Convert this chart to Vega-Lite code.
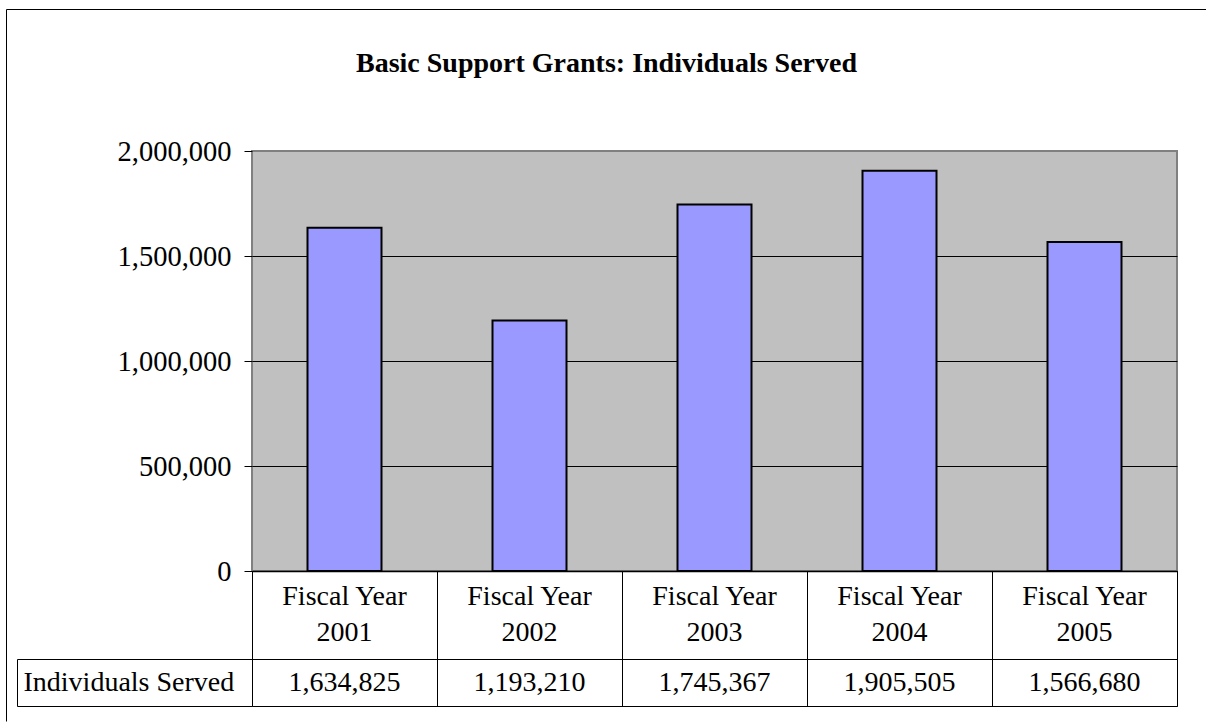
{
  "$schema": "https://vega.github.io/schema/vega-lite/v6.json",
  "padding": {"left": 5, "top": 8, "right": 0, "bottom": 0},
  "background": "white",
  "config": {"font": "Liberation Serif", "view": {"stroke": null}},
  "data": {"values": [
    {"year": "Fiscal Year\n2001", "served": 1634825},
    {"year": "Fiscal Year\n2002", "served": 1193210},
    {"year": "Fiscal Year\n2003", "served": 1745367},
    {"year": "Fiscal Year\n2004", "served": 1905505},
    {"year": "Fiscal Year\n2005", "served": 1566680}
  ]},
  "bounds": "flush",
  "spacing": 0,
  "vconcat": [
    {
      "width": 925,
      "height": 420,
      "title": {"text": "Basic Support Grants: Individuals Served", "fontSize": 28, "fontWeight": "bold", "font": "Liberation Serif", "color": "black", "anchor": "middle", "frame": "group", "dx": -108, "offset": 59},
      "view": {"fill": "#C0C0C0", "stroke": "#808080", "strokeWidth": 2},
      "mark": {"type": "bar", "color": "#9999FF", "stroke": "black", "strokeWidth": 2},
      "encoding": {
        "x": {"field": "year", "type": "nominal", "sort": null,
              "scale": {"paddingInner": 0.6, "paddingOuter": 0.3},
              "axis": {"labels": false, "ticks": false, "domain": true, "domainColor": "black", "domainWidth": 1.5, "title": null, "grid": false}},
        "y": {"field": "served", "type": "quantitative",
              "scale": {"domain": [0, 2000000], "nice": false},
              "axis": {"values": [0, 500000, 1000000, 1500000, 2000000], "format": ",d", "title": null, "domain": false,
                       "tickSize": 8, "tickColor": "black", "labelFontSize": 28.5, "labelColor": "black", "labelPadding": 13,
                       "labelFont": "Liberation Serif", "grid": true, "gridOpacity": 1,
                       "gridColor": {"condition": {"test": "datum.value >= 2000000", "value": "#808080"}, "value": "black"}}}
      }
    },
    {
      "width": 925,
      "height": 88,
      "view": {"stroke": "black", "strokeWidth": 1},
      "mark": {"type": "text", "fontSize": 28, "lineBreak": "\n", "lineHeight": 36, "color": "black", "baseline": "middle", "dy": -18},
      "encoding": {
        "x": {"field": "year", "type": "nominal", "sort": null,
              "scale": {"type": "band", "paddingInner": 0, "paddingOuter": 0},
              "axis": {"labels": false, "ticks": false, "domain": false, "title": null, "grid": true, "tickBand": "extent", "gridColor": "black", "gridOpacity": 1, "gridWidth": 1}},
        "text": {"field": "year"}
      }
    },
    {
      "width": 925,
      "height": 47,
      "view": {"stroke": "black", "strokeWidth": 1},
      "resolve": {"scale": {"x": "independent", "y": "independent"}, "axis": {"x": "independent", "y": "independent"}},
      "layer": [
        {
          "mark": {"type": "text", "fontSize": 28, "color": "black", "baseline": "middle"},
          "encoding": {
            "x": {"field": "year", "type": "nominal", "sort": null,
                  "scale": {"type": "band", "paddingInner": 0, "paddingOuter": 0},
                  "axis": {"orient": "bottom", "labels": false, "ticks": false, "domain": false, "title": null, "grid": true, "tickBand": "extent", "gridColor": "black", "gridOpacity": 1, "gridWidth": 1}},
            "y": {"datum": "Individuals Served", "type": "nominal",
                  "scale": {"type": "band", "paddingInner": 0, "paddingOuter": 0},
                  "axis": {"orient": "left", "offset": 235, "tickBand": "extent", "tickSize": -235, "tickColor": "black", "tickWidth": 1,
                           "domain": true, "domainColor": "black", "domainWidth": 1, "labelAlign": "left", "labelPadding": 229, "labelLimit": 0,
                           "labelFontSize": 28, "labelColor": "black", "labelFont": "Liberation Serif", "title": null, "grid": false}},
            "text": {"field": "served", "type": "quantitative", "format": ","}
          }
        },
        {
          "mark": {"type": "text", "text": ""},
          "encoding": {
            "x": {"field": "year", "type": "nominal", "sort": null,
                  "scale": {"type": "band", "range": [-246, 955]},
                  "axis": {"orient": "top", "offset": 650, "domain": true, "domainColor": "black", "domainWidth": 1, "ticks": false, "labels": false, "grid": false, "title": null}},
            "y": {"field": "served", "type": "quantitative",
                  "scale": {"range": [62, -650]},
                  "axis": {"orient": "left", "offset": 246, "domain": true, "domainColor": "black", "domainWidth": 1, "ticks": false, "labels": false, "grid": false, "title": null}}
          }
        }
      ]
    }
  ]
}
